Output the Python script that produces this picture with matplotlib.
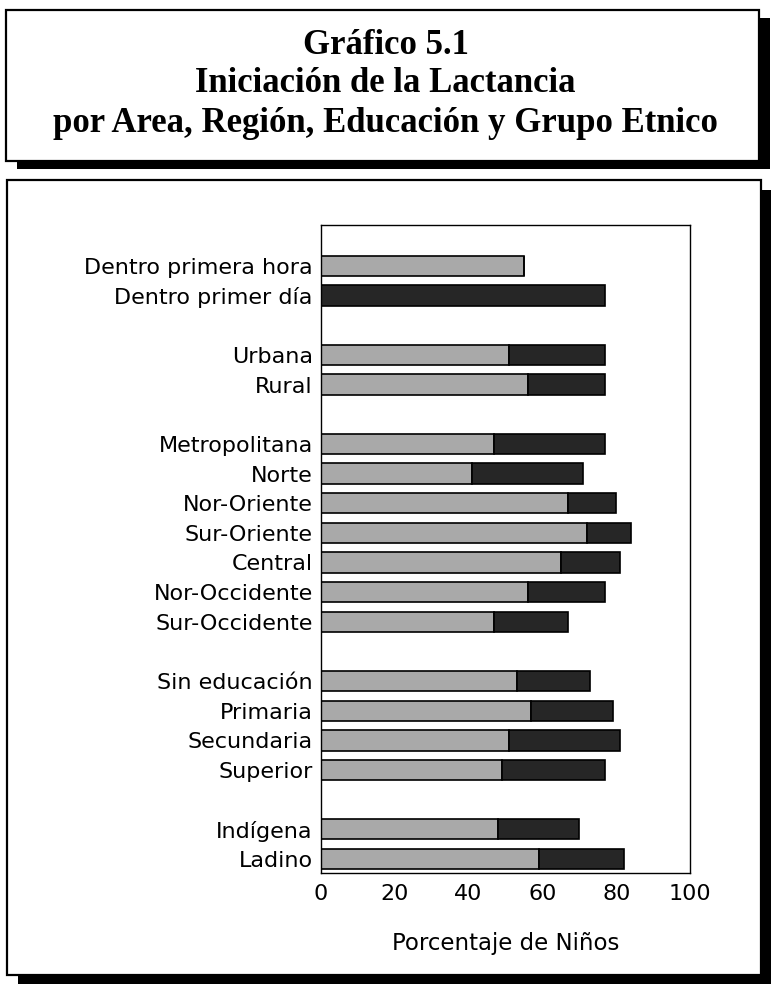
import matplotlib
matplotlib.use('Agg')
import matplotlib.pyplot as plt
from matplotlib.patches import Rectangle

# categories (top to bottom), None = blank spacer row
labels = ['Dentro primera hora', 'Dentro primer día', None,
          'Urbana', 'Rural', None,
          'Metropolitana', 'Norte', 'Nor-Oriente', 'Sur-Oriente', 'Central',
          'Nor-Occidente', 'Sur-Occidente', None,
          'Sin educación', 'Primaria', 'Secundaria', 'Superior', None,
          'Indígena', 'Ladino']

# % starting within first hour (light) and within first day (total)
primera_hora = [55, 0, None, 51, 56, None, 47, 41, 67, 72, 65, 56, 47, None,
                53, 57, 51, 49, None, 48, 59]
primer_dia = [0, 77, None, 77, 77, None, 77, 71, 80, 84, 81, 77, 67, None,
              73, 79, 81, 77, None, 70, 82]

W, H = 771, 984
fig = plt.figure(figsize=(W / 100, H / 100), dpi=100)

def box(x0, y0, x1, y1, dx, dy):
    # shadow then white box, pixel coords from the top-left
    fig.patches.append(Rectangle(((x0 + dx) / W, 1 - (y1 + dy) / H), (x1 - x0) / W, (y1 - y0) / H,
                                 transform=fig.transFigure, facecolor='black', edgecolor='none', zorder=0))
    fig.patches.append(Rectangle((x0 / W, 1 - y1 / H), (x1 - x0) / W, (y1 - y0) / H,
                                 transform=fig.transFigure, facecolor='white', edgecolor='black',
                                 linewidth=1.6, zorder=1))

box(6, 10, 759, 161, 11, 8)
box(7, 180, 761, 975, 11, 10)

title_lines = ['Gráfico 5.1', 'Iniciación de la Lactancia',
               'por Area, Región, Educación y Grupo Etnico']
for t, yy in zip(title_lines, [45, 84, 123]):
    fig.text(0.5, 1 - yy / H, t, ha='center', va='center', fontsize=25,
             fontweight='bold', family='Liberation Serif', zorder=3)

ax = fig.add_axes([321 / W, 1 - 873 / H, (690 - 321) / W, (873 - 225) / H])
ax.set_zorder(2)
ax.patch.set_alpha(0)

ypos = [i for i, l in enumerate(labels) if l is not None]
light = [primera_hora[i] for i in ypos]
total = [primer_dia[i] for i in ypos]
dark = [t - l if t else 0 for t, l in zip(total, light)]

h = 0.68
ax.barh(ypos, light, height=h, color='#a9a9a9', edgecolor='black', linewidth=1.2)
ax.barh(ypos, dark, left=light, height=h, color='#262626', edgecolor='black', linewidth=1.2)

ax.set_xlim(0, 100)
ax.set_ylim(20.47, -1.38)
ax.set_yticks(ypos)
ax.set_yticklabels([labels[i] for i in ypos], fontsize=16, family='DejaVu Sans')
ax.set_xticks([0, 20, 40, 60, 80, 100])
ax.tick_params(axis='both', length=0, labelsize=16)
ax.tick_params(axis='y', pad=6)
ax.tick_params(axis='x', pad=8)
ax.set_xlabel('Porcentaje de Niños', fontsize=16.5, labelpad=20)
for s in ax.spines.values():
    s.set_linewidth(1.0)

fig.savefig('out.png', dpi=100)
